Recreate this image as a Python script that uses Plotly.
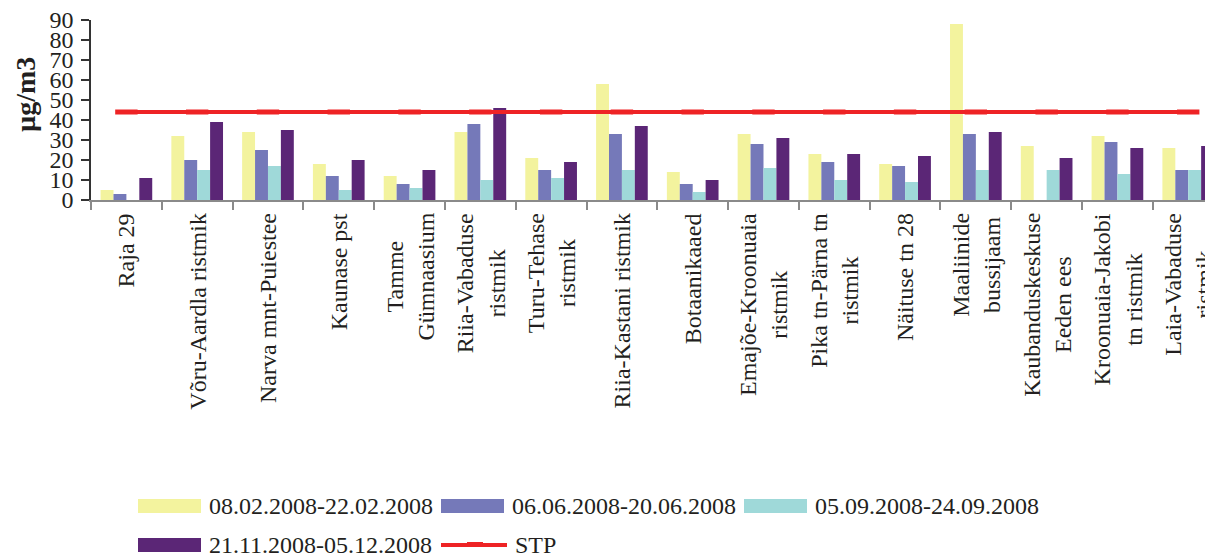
import plotly.graph_objects as go

categories = [
    "Raja 29", "Võru-Aardla ristmik", "Narva mnt-Puiestee", "Kaunase pst",
    "Tamme<br>Gümnaasium", "Riia-Vabaduse<br>ristmik", "Turu-Tehase<br>ristmik",
    "Riia-Kastani ristmik", "Botaanikaaed", "Emajõe-Kroonuaia<br>ristmik",
    "Pika tn-Pärna tn<br>ristmik", "Näituse tn 28", "Maaliinide<br>bussijaam",
    "Kaubanduskeskuse<br>Eeden ees", "Kroonuaia-Jakobi<br>tn ristmik",
    "Laia-Vabaduse<br>ristmik",
]
series_names = ["08.02.2008-22.02.2008", "06.06.2008-20.06.2008",
                "05.09.2008-24.09.2008", "21.11.2008-05.12.2008"]
feb = [5, 32, 34, 18, 12, 34, 21, 58, 14, 33, 23, 18, 88, 27, 32, 26]
jun = [3, 20, 25, 12, 8, 38, 15, 33, 8, 28, 19, 17, 33, None, 29, 15]
sep = [None, 15, 17, 5, 6, 10, 11, 15, 4, 16, 10, 9, 15, 15, 13, 15]
nov = [11, 39, 35, 20, 15, 46, 19, 37, 10, 31, 23, 22, 34, 21, 26, 27]
stp_name = "STP"
stp = [44] * len(categories)
y_title = "µg/m3"
y_ticks = [0, 10, 20, 30, 40, 50, 60, 70, 80, 90]

colors = ["#F3F39E", "#7579B9", "#9FD9D9", "#5B2676"]
red = "#EE2325"
FONT = "Liberation Serif"
TXT = "#231F20"

# page body has an 8px margin: figure is placed at (8, 8) in the window
OFF = 8
W, H = 1213 - OFF, 558 - OFF
PL, PT = 91, 20            # plot-area top-left in window pixels
PW, PH = 1213 - PL, 180


def px(x):
    return (x - PL) / PW


def py(y):
    return (PT + PH - y) / PH


fig = go.Figure()
for name, vals, col in zip(series_names, [feb, jun, sep, nov], colors):
    fig.add_trace(go.Bar(x=categories, y=vals, name=name, marker_color=col,
                         marker_line_width=0, showlegend=False))
fig.add_trace(go.Scatter(x=categories, y=stp, name=stp_name, mode="lines+markers",
                         line=dict(color=red, width=4),
                         marker=dict(symbol="line-ew", size=16,
                                     line=dict(color=red, width=5)),
                         showlegend=False))

annotations = []
# category labels (rotated, centred lines)
for c in categories:
    annotations.append(dict(x=c, xref="x", y=0, yref="paper", yshift=-11,
                            text=c, textangle=-90, showarrow=False,
                            xanchor="center", yanchor="top", align="center",
                            font=dict(family=FONT, size=24, color=TXT)))
# y title
annotations.append(dict(x=px(25), xref="paper", y=py(95), yref="paper",
                        text="<b>" + y_title + "</b>", textangle=-90, showarrow=False,
                        xanchor="center", yanchor="middle", borderpad=0,
                        font=dict(family=FONT, size=28, color=TXT)))

# custom legend
shapes = []
cols_x = [138, 441, 744]
rows_y = [506, 545]
items = [(series_names[i], colors[i], "bar") for i in range(4)] + [(stp_name, red, "line")]
for k, (name, col, kind) in enumerate(items):
    x0 = cols_x[k % 3]
    yc = rows_y[k // 3]
    if kind == "bar":
        shapes.append(dict(type="rect", xref="paper", yref="paper",
                           x0=px(x0), x1=px(x0 + 63), y0=py(yc + 7), y1=py(yc - 7),
                           fillcolor=col, line_width=0))
        tx = x0 + 69
    else:
        shapes.append(dict(type="line", xref="paper", yref="paper",
                           x0=px(x0), x1=px(x0 + 66), y0=py(yc), y1=py(yc),
                           line=dict(color=col, width=4)))
        shapes.append(dict(type="rect", xref="paper", yref="paper",
                           x0=px(x0 + 26), x1=px(x0 + 42), y0=py(yc + 1), y1=py(yc - 3),
                           fillcolor=col, line_width=0))
        tx = x0 + 72
    annotations.append(dict(x=px(tx), xref="paper", y=py(yc), yref="paper",
                            text=name, showarrow=False, xanchor="left", yanchor="middle",
                            font=dict(family=FONT, size=24, color=TXT)))

fig.update_layout(
    width=W, height=H,
    margin=dict(l=PL - OFF, r=0, t=PT - OFF, b=H - (PT - OFF) - PH, pad=0),
    paper_bgcolor="white", plot_bgcolor="white",
    barmode="group", bargap=0.27, bargroupgap=0,
    showlegend=False,
    annotations=annotations, shapes=shapes,
    font=dict(family=FONT, size=24, color=TXT),
    xaxis=dict(type="category", range=[-0.5, 15.35], showticklabels=False,
               ticks="outside", tickson="boundaries", ticklen=8, tickwidth=1.5,
               tickcolor="#8A8A8A", showline=True, linecolor="#8A8A8A", linewidth=1.5,
               showgrid=False, zeroline=False, fixedrange=True),
    yaxis=dict(range=[0, 90], tickvals=y_ticks, ticks="outside", ticklen=8,
               tickwidth=1.5, tickcolor="#333333", showline=True, linecolor="#333333",
               linewidth=1.5, showgrid=False, zeroline=False,
               tickfont=dict(family=FONT, size=24, color=TXT),
               ticklabelstandoff=3, ticklabeloverflow="allow", fixedrange=True),
)

fig.write_html("out.html")
